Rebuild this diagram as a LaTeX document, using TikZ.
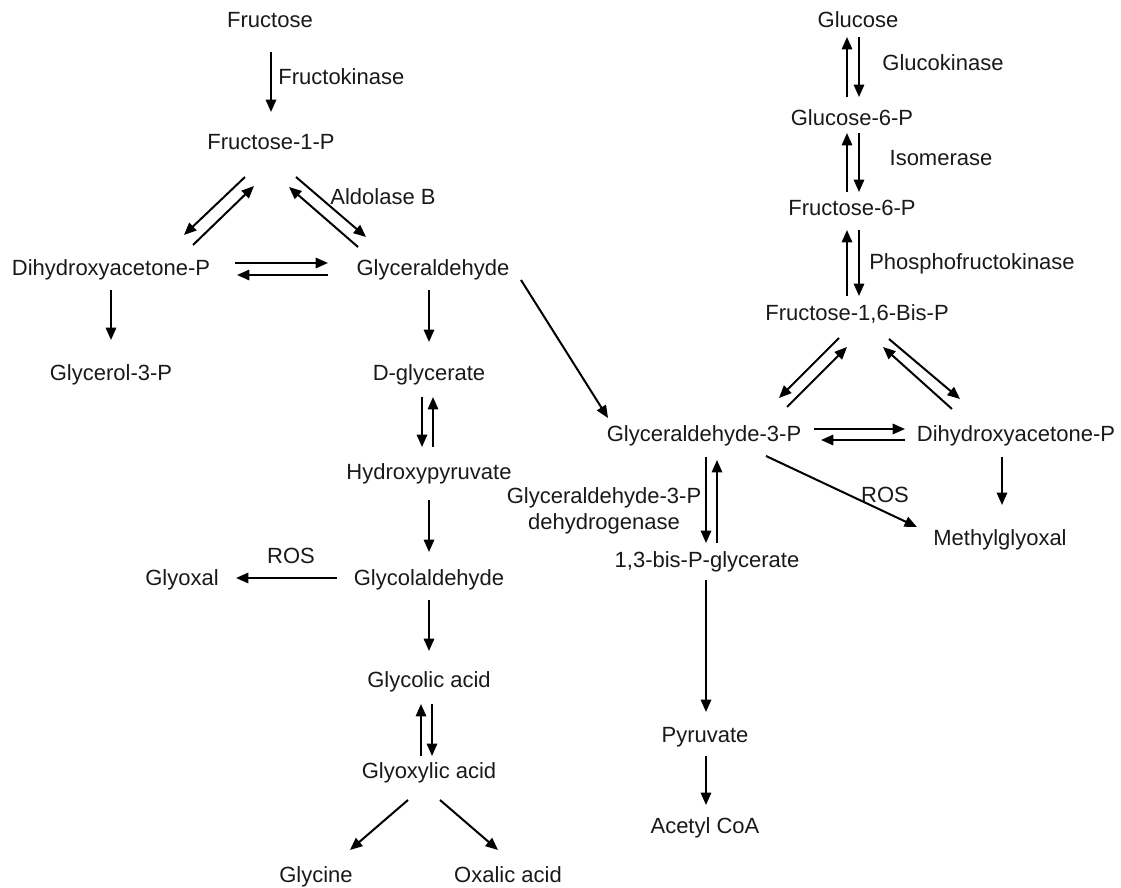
\documentclass[tikz,border=0pt]{standalone}
\usepackage{fontspec}
\setmainfont{Liberation Sans}
\usetikzlibrary{arrows.meta, calc}

\begin{document}
\begin{tikzpicture}[
  x=0.5pt, y=-0.5pt,
  every node/.style={inner sep=0pt, text height=7.8pt, text depth=0pt,
    font=\fontsize{11}{13}\selectfont, text=black!90},
  rxn/.style={-{Triangle[length=6.2pt,width=5.2pt]}, line width=1pt},
  enz/.style={align=center}
]
\useasboundingbox (0,0) rectangle (1121,888);

% fructose branch
\node (fru)      at (270,20)  {Fructose};
\node (f1p)      at (271,142) {Fructose-1-P};
\node (dhapa)    at (111,268) {Dihydroxyacetone-P};
\node (gla)      at (433,268) {Glyceraldehyde};
\node (glyc3p)   at (111,373) {Glycerol-3-P};
\node (dgly)     at (429,373) {D-glycerate};
\node (hpyr)     at (429,472) {Hydroxypyruvate};
\node (glcald)   at (429,578) {Glycolaldehyde};
\node (glyoxal)  at (182,578) {Glyoxal};
\node (glycolic) at (429,680) {Glycolic acid};
\node (glyoxylic) at (429,771) {Glyoxylic acid};
\node (glycine)  at (316,875) {Glycine};
\node (oxalic)   at (508,875) {Oxalic acid};

% glycolysis branch
\node (glc)   at (858,20)   {Glucose};
\node (g6p)   at (852,118)  {Glucose-6-P};
\node (f6p)   at (852,208)  {Fructose-6-P};
\node (fbp)   at (857,313)  {Fructose-1,6-Bis-P};
\node (gap)   at (704,434)  {Glyceraldehyde-3-P};
\node (dhapb) at (1016,434) {Dihydroxyacetone-P};
\node (mgly)  at (1000,538) {Methylglyoxal};
\node (bpg)   at (707,560)  {1,3-bis-P-glycerate};
\node (pyr)   at (705,735)  {Pyruvate};
\node (acoa)  at (705,826)  {Acetyl CoA};

% enzyme labels
\node[anchor=west] (fk) at (278,77) {Fructokinase};
\node (aldb)  at (383,197) {Aldolase B};
\node (rosa)  at (291,556) {ROS};
\node (gk)    at (943,63)  {Glucokinase};
\node (iso)   at (941,158) {Isomerase};
\node (pfk)   at (972,262) {Phosphofructokinase};
\node (rosb)  at (885,495) {ROS};
\node[enz, text height=, text depth=] (gapdh) at (604,511) {Glyceraldehyde-3-P\\dehydrogenase};

% left arrows
\draw[rxn] ($(fru)+(1,32)$) -- ($(f1p)+(0,-30)$);
\draw[rxn] ($(f1p)+(-26,35)$) -- ($(dhapa)+(73,-33)$);
\draw[rxn] ($(dhapa)+(82,-23)$) -- ($(f1p)+(-17,44)$);
\draw[rxn] ($(f1p)+(25,35)$) -- ($(gla)+(-67,-31)$);
\draw[rxn] ($(gla)+(-75,-21)$) -- ($(f1p)+(18,45)$);
\draw[rxn] ($(dhapa)+(124,-5)$) -- ($(gla)+(-105,-5)$);
\draw[rxn] ($(gla)+(-105,7)$) -- ($(dhapa)+(126,7)$);
\draw[rxn] ($(dhapa)+(0,22)$) -- ($(glyc3p)+(0,-33)$);
\draw[rxn] ($(gla)+(-4,22)$) -- ($(dgly)+(0,-31)$);
\draw[rxn] ($(dgly)+(-7,24)$) -- ($(hpyr)+(-7,-25)$);
\draw[rxn] ($(hpyr)+(4,-25)$) -- ($(dgly)+(4,24)$);
\draw[rxn] ($(hpyr)+(0,28)$) -- ($(glcald)+(0,-26)$);
\draw[rxn] ($(glcald)+(-92,0)$) -- ($(glyoxal)+(54,0)$);
\draw[rxn] ($(glcald)+(0,22)$) -- ($(glycolic)+(0,-29)$);
\draw[rxn] ($(glyoxylic)+(-8,-15)$) -- ($(glycolic)+(-8,24)$);
\draw[rxn] ($(glycolic)+(3,24)$) -- ($(glyoxylic)+(3,-15)$);
\draw[rxn] ($(glyoxylic)+(-21,29)$) -- ($(glycine)+(34,-25)$);
\draw[rxn] ($(glyoxylic)+(11,29)$) -- ($(oxalic)+(-10,-25)$);
\draw[rxn] ($(gla)+(88,12)$) -- ($(gap)+(-96,-16)$);

% right arrows
\draw[rxn] ($(glc)+(1,17)$) -- ($(g6p)+(7,-21)$);
\draw[rxn] ($(g6p)+(-5,-21)$) -- ($(glc)+(-11,17)$);
\draw[rxn] ($(g6p)+(7,15)$) -- ($(f6p)+(7,-16)$);
\draw[rxn] ($(f6p)+(-5,-16)$) -- ($(g6p)+(-5,15)$);
\draw[rxn] ($(f6p)+(7,22)$) -- ($(fbp)+(2,-17)$);
\draw[rxn] ($(fbp)+(-10,-17)$) -- ($(f6p)+(-5,22)$);
\draw[rxn] ($(fbp)+(-18,25)$) -- ($(gap)+(75,-36)$);
\draw[rxn] ($(gap)+(83,-27)$) -- ($(fbp)+(-10,34)$);
\draw[rxn] ($(fbp)+(32,26)$) -- ($(dhapb)+(-56,-35)$);
\draw[rxn] ($(dhapb)+(-64,-25)$) -- ($(fbp)+(26,34)$);
\draw[rxn] ($(gap)+(110,-5)$) -- ($(dhapb)+(-111,-5)$);
\draw[rxn] ($(dhapb)+(-111,6)$) -- ($(gap)+(117,6)$);
\draw[rxn] ($(dhapb)+(-14,23)$) -- ($(mgly)+(2,-33)$);
\draw[rxn] ($(gap)+(62,22)$) -- ($(mgly)+(-83,-11)$);
\draw[rxn] ($(gap)+(2,23)$) -- ($(bpg)+(-1,-17)$);
\draw[rxn] ($(bpg)+(10,-17)$) -- ($(gap)+(13,26)$);
\draw[rxn] ($(bpg)+(-1,20)$) -- ($(pyr)+(1,-23)$);
\draw[rxn] ($(pyr)+(1,21)$) -- ($(acoa)+(1,-21)$);
\end{tikzpicture}
\end{document}
